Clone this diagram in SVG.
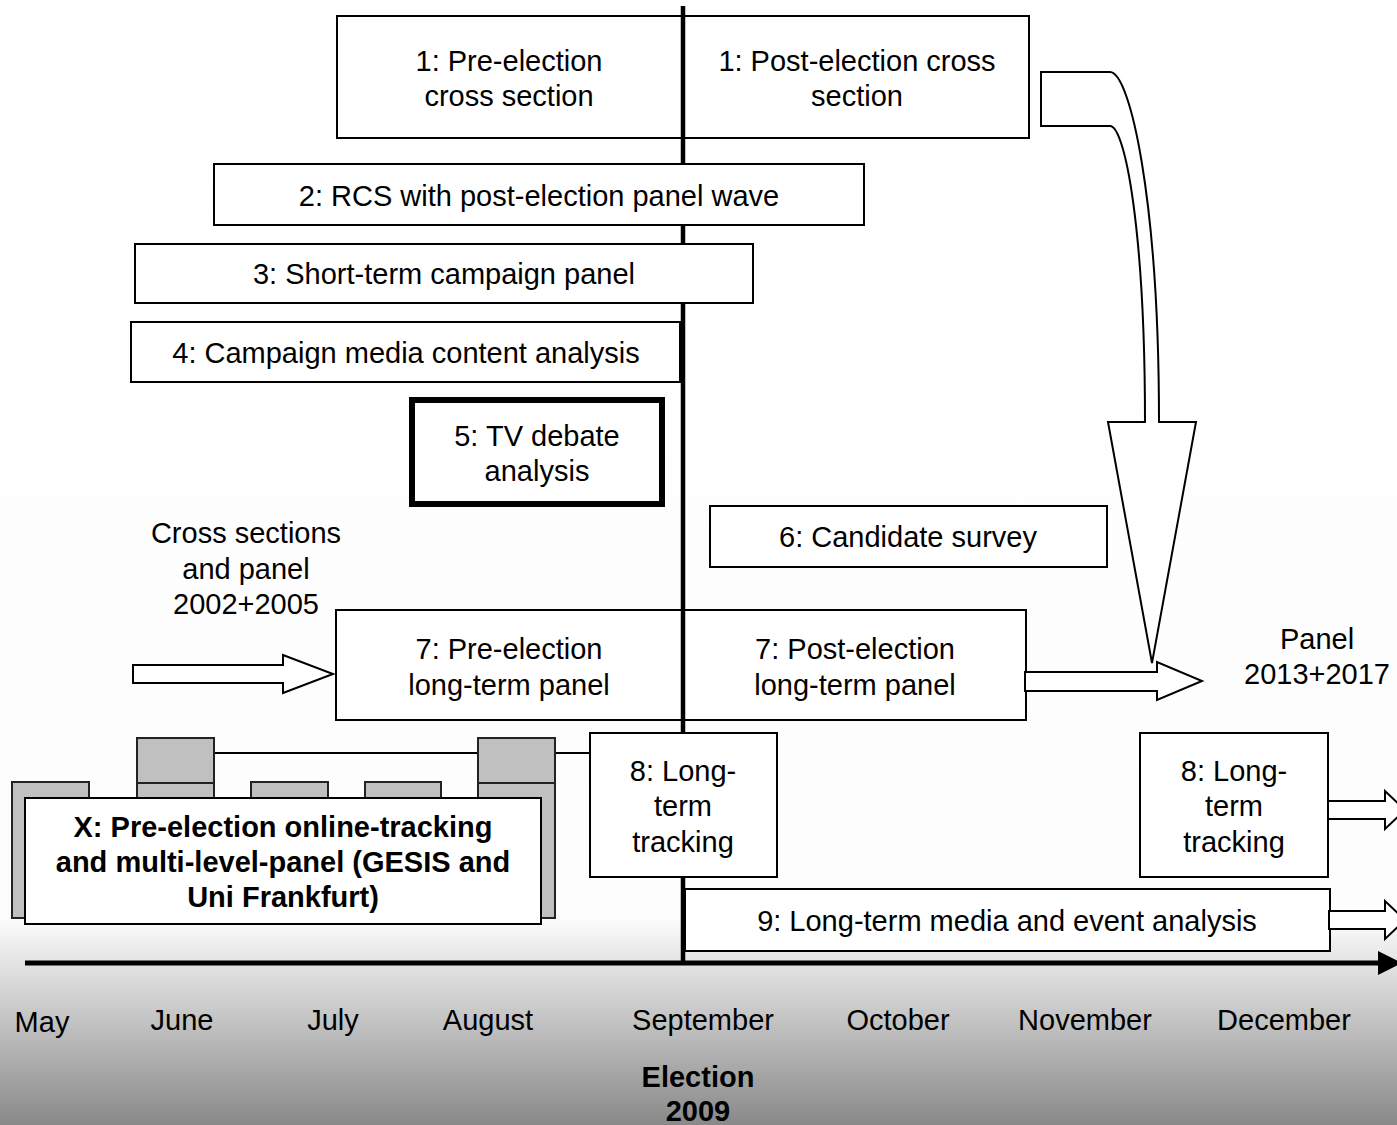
<svg xmlns="http://www.w3.org/2000/svg" width="1397" height="1125" viewBox="0 0 1397 1125">
<defs>
<linearGradient id="bg" x1="0" y1="0" x2="0" y2="1125" gradientUnits="userSpaceOnUse">
<stop offset="0" stop-color="#ffffff"/>
<stop offset="0.815" stop-color="#fdfdfd"/>
<stop offset="1" stop-color="#898989"/>
</linearGradient>
</defs>
<style>
.box{fill:#fff;stroke:#000;stroke-width:2}
.thick{fill:#fff;stroke:#000;stroke-width:6}
.tab{fill:#c0c0c0;stroke:#222;stroke-width:2}
.t{font-family:"Liberation Sans",Arial,sans-serif;font-size:29px;fill:#000;text-anchor:middle}
.b{font-weight:bold}
.arr{fill:#fff;stroke:#000;stroke-width:2;stroke-linejoin:miter}
.ln{fill:none;stroke:#000;stroke-width:2}
</style>
<rect x="0" y="0" width="1397" height="1125" fill="url(#bg)"/>

<g id="node1-pre"><rect class="box" x="337" y="16" width="346" height="122"/>
<text class="t" x="509" y="71">1: Pre-election</text><text class="t" x="509" y="106">cross section</text></g>
<g id="node1-post"><rect class="box" x="683" y="16" width="346" height="122"/>
<text class="t" x="857" y="71">1: Post-election cross</text><text class="t" x="857" y="106">section</text></g>
<g id="node7-pre"><rect class="box" x="336" y="610" width="347" height="110"/>
<text class="t" x="509" y="659">7: Pre-election</text><text class="t" x="509" y="695">long-term panel</text></g>
<g id="node7-post"><rect class="box" x="683" y="610" width="343" height="110"/>
<text class="t" x="855" y="659">7: Post-election</text><text class="t" x="855" y="695">long-term panel</text></g>
<g id="node4"><rect class="box" x="131" y="322" width="549" height="60"/>
<text class="t" x="406" y="363">4: Campaign media content analysis</text></g>

<line id="election-line" x1="683" y1="6" x2="683" y2="963" stroke="#000" stroke-width="4.5"/>

<g id="node2"><rect class="box" x="214" y="164" width="650" height="61"/>
<text class="t" x="539" y="206">2: RCS with post-election panel wave</text></g>
<g id="node3"><rect class="box" x="135" y="244" width="618" height="59"/>
<text class="t" x="444" y="284">3: Short-term campaign panel</text></g>
<g id="node5"><rect class="thick" x="412" y="400" width="250" height="104"/>
<text class="t" x="537" y="446">5: TV debate</text><text class="t" x="537" y="481">analysis</text></g>
<g id="node6"><rect class="box" x="710" y="506" width="397" height="61"/>
<text class="t" x="908" y="547">6: Candidate survey</text></g>
<g id="label-cross"><text class="t" x="246" y="543">Cross sections</text><text class="t" x="246" y="579">and panel</text><text class="t" x="246" y="614">2002+2005</text></g>
<g id="label-panel"><text class="t" x="1317" y="649">Panel</text><text class="t" x="1317" y="684">2013+2017</text></g>
<g id="node8-left"><rect class="box" x="590" y="733" width="187" height="144"/>
<text class="t" x="683" y="781">8: Long-</text><text class="t" x="683" y="816">term</text><text class="t" x="683" y="852">tracking</text></g>
<g id="node8-right"><rect class="box" x="1140" y="733" width="188" height="144"/>
<text class="t" x="1234" y="781">8: Long-</text><text class="t" x="1234" y="816">term</text><text class="t" x="1234" y="852">tracking</text></g>
<g id="node9"><rect class="box" x="685" y="889" width="645" height="62"/>
<text class="t" x="1007" y="931">9: Long-term media and event analysis</text></g>

<g id="connectors">
<path class="arr" d="M1041,72 L1110,72 C1130,72 1159,200 1159,422 L1196,422 L1152,663 L1108,422 L1145,422 C1145,230 1125,126 1110,126 L1041,126 Z"/>
<path class="arr" d="M133,665 L283,665 L283,655 L333,674 L283,693 L283,683 L133,683 Z"/>
<path class="arr" d="M1025,672 L1157,672 L1157,662 L1202,681 L1157,700 L1157,691 L1025,691 Z"/>
<path class="arr" d="M1328,801 L1385,801 L1385,791 L1405,810 L1385,829 L1385,819 L1328,819 Z"/>
<path class="arr" d="M1329,911 L1385,911 L1385,901 L1405,920 L1385,939 L1385,929 L1329,929 Z"/>
<line x1="25" y1="963" x2="1380" y2="963" stroke="#000" stroke-width="5"/>
<polygon points="1378,951 1402,963 1378,975" fill="#000"/>
<line class="ln" x1="214" y1="753" x2="478" y2="753"/>
<line class="ln" x1="555" y1="753" x2="590" y2="753"/>
</g>

<g id="nodeX">
<rect class="tab" x="12" y="782" width="77" height="136"/>
<rect class="tab" x="137" y="783" width="77" height="135"/>
<rect class="tab" x="137" y="738" width="77" height="45"/>
<rect class="tab" x="251" y="782" width="77" height="136"/>
<rect class="tab" x="365" y="782" width="76" height="136"/>
<rect class="tab" x="478" y="783" width="77" height="135"/>
<rect class="tab" x="478" y="738" width="77" height="45"/>
<rect class="box" x="25" y="798" width="516" height="126"/>
<text class="t b" x="283" y="837">X: Pre-election online-tracking</text>
<text class="t b" x="283" y="872">and multi-level-panel (GESIS and</text>
<text class="t b" x="283" y="907">Uni Frankfurt)</text>
</g>

<g id="months">
<text class="t" x="42" y="1032">May</text>
<text class="t" x="182" y="1030">June</text>
<text class="t" x="333" y="1030">July</text>
<text class="t" x="488" y="1030">August</text>
<text class="t" x="703" y="1030">September</text>
<text class="t" x="898" y="1030">October</text>
<text class="t" x="1085" y="1030">November</text>
<text class="t" x="1284" y="1030">December</text>
</g>
<g id="election-label"><text class="t b" x="698" y="1087">Election</text><text class="t b" x="698" y="1121">2009</text></g>
</svg>
